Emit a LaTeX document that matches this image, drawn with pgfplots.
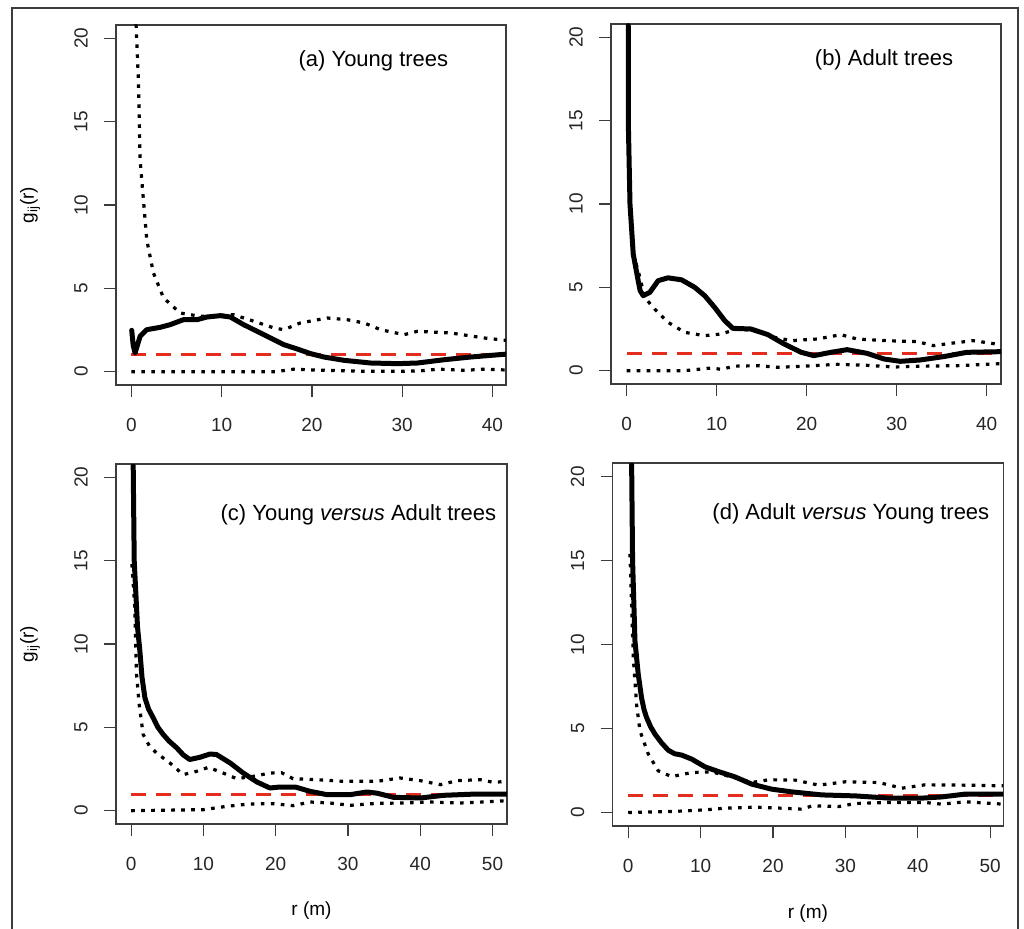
\documentclass[border=0pt]{standalone}
\usepackage{fontspec}
\setmainfont{Liberation Sans}
\usepackage{pgfplots}
\pgfplotsset{compat=1.18}

\definecolor{rred}{RGB}{228,45,30}
\definecolor{frame}{RGB}{60,60,60}

\pgfplotsset{
  gpanel/.style={
    scale only axis, anchor=south west,
    width=195pt, height=180pt,
    ymin=-0.8, ymax=20.8,
    ytick={0,5,10,15,20},
    axis line style={draw=frame, line width=0.6pt},
    tick style={draw=frame, line width=0.6pt},
    tick align=outside, major tick length=6pt,
    xtick pos=bottom, ytick pos=left,
    /pgf/number format/assume math mode=true,
    tick label style={font=\fontsize{9.5}{11}\selectfont, text=black!85},
    xticklabel style={anchor=center, yshift=-14pt},
    yticklabel={\rotatebox{90}{\pgfmathprintnumber{\tick}}},
    yticklabel style={anchor=center, xshift=-11.5pt},
    label style={font=\fontsize{9.5}{11}\selectfont},
    ylabel style={at={(axis description cs:-0.22,0.5)}, anchor=center, rotate=0},
    xlabel style={at={(axis description cs:0.5,-0.24)}, anchor=center},
    clip=true,
  },
  gobs/.style={black, line width=2.5pt, line join=round, line cap=round},
  genv/.style={black, line width=1.6pt, dash pattern=on 1.8pt off 3.2pt},
  gref/.style={rred, line width=1.5pt, dash pattern=on 7.5pt off 5pt},
}

\newcommand{\glab}{g\textsubscript{ij}(r)}

\begin{document}
\begin{tikzpicture}

% (a) Young trees
\begin{axis}[gpanel, at={(58pt,271.5pt)}, xmin=-1.7, xmax=41.5,
  xtick={0,10,20,30,40}, ylabel={\glab}]
\addplot[genv] coordinates {
  (0.52,20.84) (0.78,17.5) (0.97,12.7) (1.34,10.3) (1.71,7.9) (2.44,5.93)
  (3.56,4.43) (5.41,3.52) (7.63,3.32) (11.3,3.42) (13.6,3.02) (15.8,2.62)
  (16.9,2.52) (18.7,2.92) (21.7,3.22) (23.9,3.12) (25.8,2.92) (27.6,2.52)
  (30.2,2.22) (31.7,2.42) (35.4,2.32) (39.1,2.02) (41.5,1.88)};
\addplot[genv] coordinates {
  (0,0) (5,0) (10,0) (16,0) (18,0.15) (20,0.1) (25,0.03) (30,0.02)
  (32,0.05) (34,0.15) (37,0.08) (39,0.15) (41.5,0.1)};
\addplot[gref] coordinates {(0,1) (41.5,1)};
\addplot[gobs] coordinates {
  (0.04,2.48) (0.2,1.6) (0.41,1.12) (0.97,2.12) (1.71,2.52) (3.19,2.66)
  (4.3,2.82) (5.78,3.12) (7.27,3.12) (8.38,3.28) (9.86,3.36) (10.97,3.28)
  (12.44,2.82) (13.93,2.42) (15.41,2.02) (16.89,1.62) (18.38,1.36)
  (19.86,1.08) (21.33,0.88) (23.56,0.68) (26.5,0.52) (29.5,0.48)
  (31.7,0.52) (34.7,0.72) (37.6,0.88) (41.7,1.06)};
\node[font=\fontsize{11}{13}\selectfont, anchor=center]
  at (axis description cs:0.66,0.9) {(a) Young trees};
\end{axis}

% (b) Adult trees
\begin{axis}[gpanel, at={(305.5pt,272pt)}, xmin=-1.74, xmax=41.6,
  xtick={0,10,20,30,40}]
\addplot[genv] coordinates {
  (0.15,20.8) (0.2,15) (0.35,10) (0.75,7) (1.47,5.6) (2.0,4.4) (3.1,3.7)
  (4.6,2.9) (6.45,2.3) (8.67,2.1) (10.5,2.2) (12.3,2.5) (14.6,2.4)
  (16.4,2.0) (18.3,1.8) (21.2,1.9) (23.8,2.16) (25.6,1.9) (28.9,1.8)
  (32.3,1.74) (34.1,1.5) (36.0,1.64) (38.5,1.8) (41.6,1.56)};
\addplot[genv] coordinates {
  (0,0) (6.45,0) (9.4,0.16) (10.5,0.08) (12,0.27) (14.6,0.3) (16.8,0.2)
  (19.7,0.27) (23.4,0.38) (26.4,0.33) (29.7,0.22) (33,0.27) (36.8,0.3)
  (41.6,0.42)};
\addplot[gref] coordinates {(0,1) (41.6,1)};
\addplot[gobs] coordinates {
  (0.18,20.7) (0.18,15.0) (0.37,10.0) (0.73,7.0) (1.28,5.4) (1.5,4.8)
  (1.84,4.5) (2.58,4.7) (3.5,5.4) (4.6,5.57) (6.1,5.45) (7.56,5.0)
  (8.67,4.5) (9.77,3.8) (10.9,3.0) (11.8,2.54) (13.8,2.5) (15.7,2.16)
  (17.5,1.6) (19.4,1.1) (20.8,0.9) (22.7,1.1) (24.5,1.26) (26.7,1.04)
  (28.6,0.7) (30.4,0.56) (32.6,0.64) (35.2,0.84) (37.8,1.1) (41.6,1.14)};
\node[font=\fontsize{11}{13}\selectfont, anchor=center]
  at (axis description cs:0.70,0.9) {(b) Adult trees};
\end{axis}

% (c) Young versus Adult trees
\begin{axis}[gpanel, at={(58pt,52pt)}, width=195.5pt, xmin=-2.1, xmax=52,
  xtick={0,10,20,30,40,50}, ylabel={\glab}, xlabel={r (m)}]
\addplot[genv] coordinates {
  (0.1,14.8) (0.5,12.2) (0.74,8.2) (1.1,6.4) (1.66,4.57)
  (2.5,3.9) (3.5,3.46) (5.36,2.86) (7.2,2.16) (9.05,2.36) (10.7,2.6) (12.7,2.26)
  (14.6,1.92) (16.9,2.06) (19.2,2.26) (20.8,2.28) (22.4,1.92) (25.7,1.86)
  (29.4,1.76) (34,1.76) (37.2,1.96) (40,1.8) (42.8,1.56) (45.1,1.8)
  (48.3,1.86) (50.1,1.7) (52,1.76)};
\addplot[genv] coordinates {
  (0,0) (10,0.06) (13.2,0.26) (16.4,0.4) (19.7,0.42) (22.4,0.3)
  (24.75,0.52) (27.5,0.46) (30.3,0.32) (34,0.44) (37.7,0.46) (41.3,0.52)
  (45.5,0.46) (48.7,0.52) (52,0.6)};
\addplot[gref] coordinates {(0,1) (52,1)};
\addplot[gobs] coordinates {
  (0.28,20.7) (0.42,15.0) (0.88,11.0) (1.2,9.6) (1.5,8.0) (1.9,6.77)
  (2.4,6.1) (3.05,5.57) (3.7,5.0) (4.43,4.57) (5.3,4.15) (6.3,3.77)
  (7.2,3.35) (8.1,3.07) (9.5,3.2) (10.9,3.4) (11.8,3.37)
  (13.7,2.86) (15.5,2.26) (17.4,1.72) (19.2,1.36) (20.6,1.42) (22.7,1.42)
  (24.75,1.16) (27.1,0.96) (30.3,0.96) (32.6,1.12) (34,1.05) (36.3,0.8)
  (40,0.76) (43.2,0.92) (47.8,1.0) (52,1.0)};
\node[font=\fontsize{11}{13}\selectfont, anchor=center]
  at (axis description cs:0.62,0.86) {(c) Young \textit{versus} Adult trees};
\end{axis}

% (d) Adult versus Young trees
\begin{axis}[gpanel, at={(306.3pt,51pt)}, width=195.3pt, height=181.5pt,
  xmin=-2.16, xmax=51.8, xtick={0,10,20,30,40,50}, xlabel={r (m)}]
\addplot[genv] coordinates {
  (0.24,15.4) (0.7,9.2) (1.16,6.4) (1.62,4.86) (2.77,3.48)
  (4.15,2.48) (6.0,2.14) (8.77,2.38) (11.5,2.42) (14.3,2.12) (17.07,1.79)
  (19.4,1.95) (23.1,1.93) (26.3,1.63) (30.0,1.83) (34.6,1.79) (37.8,1.45)
  (41.0,1.65) (46.6,1.63) (51.8,1.59)};
\addplot[genv] coordinates {
  (0,0) (6,0.06) (10.6,0.16) (13.4,0.26) (17.5,0.32) (21.2,0.26) (24,0.2)
  (25.4,0.4) (29.1,0.36) (31.4,0.54) (36,0.6) (41,0.6) (43.3,0.5)
  (46.6,0.64) (51.8,0.5)};
\addplot[gref] coordinates {(0,1) (51.8,1)};
\addplot[gobs] coordinates {
  (0.47,20.7) (0.6,15.0) (0.93,10.2) (1.38,8.24) (1.85,6.8) (2.2,6.1)
  (2.54,5.65) (3.1,5.1) (3.69,4.67) (4.6,4.15) (5.53,3.71) (6.4,3.5)
  (7.38,3.42) (8.77,3.18) (10.6,2.72) (12.45,2.44)
  (14.76,2.12) (17.07,1.69) (19.83,1.39) (22.6,1.23) (26.75,1.05)
  (31.4,0.99) (36,0.86) (40.6,0.86) (43.3,0.93) (46.6,1.1) (51.8,1.1)};
\node[font=\fontsize{11}{13}\selectfont, anchor=center]
  at (axis description cs:0.61,0.86) {(d) Adult \textit{versus} Young trees};
\end{axis}

% outer frame
\draw[frame, line width=0.8pt] (6pt,-5pt) -- (6pt,460pt) -- (509pt,460pt) -- (509pt,-5pt);

\pgfresetboundingbox
\useasboundingbox (0,0) rectangle (512pt,464pt);
\end{tikzpicture}
\end{document}
